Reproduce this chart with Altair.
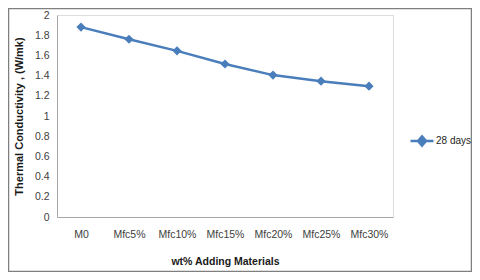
import altair as alt
import pandas as pd

categories = ["M0", "Mfc5%", "Mfc10%", "Mfc15%", "Mfc20%", "Mfc25%", "Mfc30%"]
values = [1.88, 1.76, 1.645, 1.515, 1.405, 1.345, 1.295]
series = ["28 days"] * len(categories)

df = pd.DataFrame({"mat": categories, "val": values, "series": series})

FONT = "Liberation Sans"
BLUE = "#4A7EBB"

base = alt.Chart(df)

line = base.mark_line(
    strokeWidth=2.5,
    point=alt.OverlayMarkDef(shape="diamond", size=85, filled=True, color=BLUE),
).encode(
    x=alt.X("mat:N", sort=categories,
            scale=alt.Scale(paddingInner=0, paddingOuter=0.5),
            axis=alt.Axis(title="wt% Adding Materials", labelAngle=0, ticks=False,
                          domainColor="#a6a6a6", labelPadding=12, titlePadding=17,
                          labelFontSize=10.5, labelColor="#404040",
                          titleFontSize=10.5, titleFontWeight="bold", titleColor="#1a1a1a")),
    y=alt.Y("val:Q", scale=alt.Scale(domain=[0, 2], nice=False),
            axis=alt.Axis(title="Thermal Conductivity , (W/mk)", values=[0, 0.2, 0.4, 0.6, 0.8, 1, 1.2, 1.4, 1.6, 1.8, 2],
                          format="~g", grid=False, ticks=False, domainColor="#a6a6a6",
                          labelPadding=8, titlePadding=10, labelFontSize=10.5, labelColor="#404040",
                          titleFontSize=11, titleFontWeight="bold", titleColor="#1a1a1a")),
    color=alt.Color("series:N", scale=alt.Scale(range=[BLUE]),
                    legend=alt.Legend(title=None, orient="none", legendX=352, legendY=113,
                                      symbolType="M-1,0L1,0M0,-0.4L0.35,0L0,0.4L-0.35,0Z",
                                      symbolSize=529, symbolStrokeWidth=2.5,
                                      symbolFillColor=BLUE, symbolStrokeColor=BLUE,
                                      labelFontSize=10, labelColor="#262626",
                                      labelOffset=1, padding=0)),
)

border = alt.Chart(pd.DataFrame({"a": [0]})).mark_rect(
    fill=None, stroke="#7f7f7f", strokeWidth=1.5
).encode(x=alt.value(-48.5), x2=alt.value(414.5), y=alt.value(-6.5), y2=alt.value(256.5))

chart = alt.layer(border, line).properties(
    width=336, height=202,
    autosize=alt.AutoSizeParams(type="none"),
    padding={"left": 49, "top": 7, "right": 79, "bottom": 55},
).configure_view(stroke=None).configure(font=FONT, background="white")

chart.save("out.html", embed_options={"renderer": "svg", "actions": False})
